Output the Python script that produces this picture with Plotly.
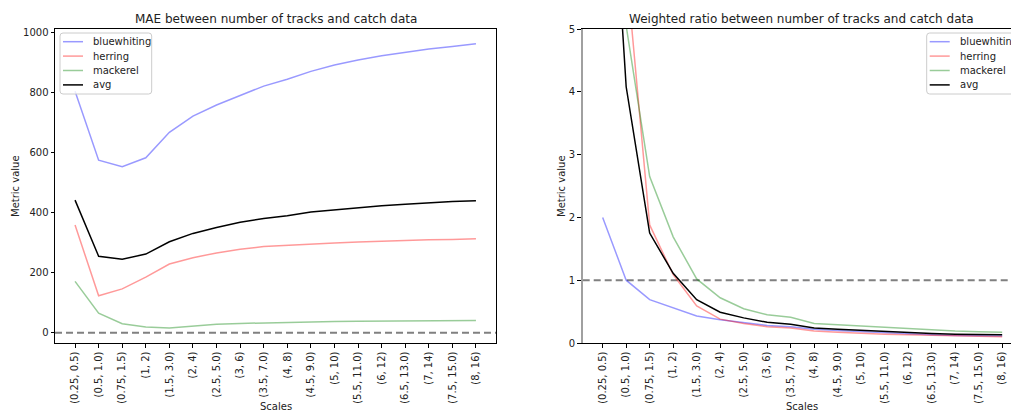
import plotly.graph_objects as go

scales = ["(0.25, 0.5)", "(0.5, 1.0)", "(0.75, 1.5)", "(1, 2)", "(1.5, 3.0)", "(2, 4)",
          "(2.5, 5.0)", "(3, 6)", "(3.5, 7.0)", "(4, 8)", "(4.5, 9.0)", "(5, 10)",
          "(5.5, 11.0)", "(6, 12)", "(6.5, 13.0)", "(7, 14)", "(7.5, 15.0)", "(8, 16)"]

mae_bluewhiting = [805, 575, 553, 583, 668, 722, 759, 790, 822, 845, 871, 892, 909, 923, 935, 946, 954, 963]
mae_herring = [359, 123, 146, 185, 229, 250, 266, 278, 287, 291, 297, 299, 302, 305, 308, 310, 311, 313]
mae_mackerel = [171, 65, 30, 19, 16, 23, 28, 31, 33, 35, 36, 37, 38, 39, 39, 40, 41, 41]
mae_avg = [442, 255, 245, 262, 303, 331, 351, 368, 381, 390, 402, 409, 417, 423, 428, 433, 437, 440]

ratio_bluewhiting = [2.0, 1.0, 0.69, 0.56, 0.43, 0.37, 0.32, 0.28, 0.26, 0.22, 0.20, 0.18, 0.16, 0.14, 0.13, 0.12, 0.12, 0.11]
ratio_herring = [17.0, 6.0, 1.88, 1.09, 0.59, 0.38, 0.31, 0.26, 0.24, 0.19, 0.17, 0.15, 0.14, 0.13, 0.12, 0.11, 0.11, 0.10]
ratio_mackerel = [11.0, 5.05, 2.65, 1.69, 1.02, 0.72, 0.545, 0.45, 0.41, 0.31, 0.29, 0.27, 0.25, 0.23, 0.20, 0.19, 0.18, 0.17]
ratio_avg = [10.0, 4.08, 1.75, 1.11, 0.69, 0.49, 0.40, 0.33, 0.30, 0.24, 0.22, 0.20, 0.18, 0.16, 0.15, 0.14, 0.14, 0.13]

names = ["bluewhiting", "herring", "mackerel", "avg"]
colors = ["rgba(0,0,255,0.4)", "rgba(255,0,0,0.4)", "rgba(0,128,0,0.4)", "#000000"]

FONT = "DejaVu Sans"
W, H = 1011, 412
T, B = 29, 69
ph = H - T - B

def px_x(p):
    return p / W

def px_y(p):
    return (H - B - p) / ph

fig = go.Figure()

left_series = [mae_bluewhiting, mae_herring, mae_mackerel, mae_avg]
right_series = [ratio_bluewhiting, ratio_herring, ratio_mackerel, ratio_avg]

for n, c, ys in zip(names, colors, left_series):
    fig.add_trace(go.Scatter(x=scales, y=ys, mode="lines", name=n, showlegend=False,
                             line=dict(color=c, width=1.5), xaxis="x", yaxis="y"))
for n, c, ys in zip(names, colors, right_series):
    fig.add_trace(go.Scatter(x=scales, y=ys, mode="lines", name=n, showlegend=False,
                             line=dict(color=c, width=1.5), xaxis="x2", yaxis="y2"))

x1_dom = [55 / W, 496 / W]
x2_dom = [582.7 / W, 1.0]
x2_end = -0.85 + (W - 582.7) / 23.5

def axis_common(linecolor="#000", linewidth=1):
    return dict(showline=True, linecolor=linecolor, linewidth=linewidth, ticks="outside",
                ticklen=3.5, tickcolor="#000", tickwidth=1, showgrid=False,
                zeroline=False, tickfont=dict(family=FONT, size=10, color="#222"))

fig.update_layout(
    width=W, height=H,
    margin=dict(l=0, r=0, t=T, b=B, autoexpand=False),
    paper_bgcolor="white", plot_bgcolor="white",
    font=dict(family=FONT, size=10, color="#222"),
    showlegend=False,
    xaxis=dict(domain=x1_dom, type="category", range=[-0.85, 17.85], tickangle=-90,
               mirror=True, anchor="y", **axis_common()),
    yaxis=dict(domain=[0, 1], range=[-34.3, 1012.3], dtick=200, tick0=0,
               mirror=True, anchor="x", **axis_common()),
    xaxis2=dict(domain=x2_dom, type="category", range=[-0.85, x2_end], tickangle=-90,
                mirror=True, anchor="y2", **axis_common()),
    yaxis2=dict(domain=[0, 1], range=[0, 5], dtick=1, tick0=0, anchor="x2",
                **axis_common("#a0a0a0", 2)),
)

fig.add_shape(type="line", xref="x domain", yref="y", x0=0, x1=1, y0=0, y1=0,
              line=dict(color="grey", width=2, dash="7px,4px"), layer="below")
fig.add_shape(type="line", xref="x2 domain", yref="y2", x0=0, x1=1, y0=1, y1=1,
              line=dict(color="grey", width=2, dash="7px,4px"), layer="below")

# legends drawn as boxes with line samples and text (matplotlib style)
def rounded_box(x0, y0, x1, y1, r=3):
    X0, X1 = px_x(x0), px_x(x1)
    Y0, Y1 = px_y(y0), px_y(y1)
    rx, ry = r / W, r / ph
    return (f"M {X0+rx},{Y0} L {X1-rx},{Y0} Q {X1},{Y0} {X1},{Y0-ry} "
            f"L {X1},{Y1+ry} Q {X1},{Y1} {X1-rx},{Y1} L {X0+rx},{Y1} "
            f"Q {X0},{Y1} {X0},{Y1+ry} L {X0},{Y0-ry} Q {X0},{Y0} {X0+rx},{Y0} Z")

item_y = [41.7, 56.1, 70.5, 84.9]
for box_left, box_right in [(60, 151.7), (926.7, 1040)]:
    fig.add_shape(type="path", xref="paper", yref="paper", layer="above",
                  path=rounded_box(box_left, 33, box_right, 94),
                  fillcolor="rgba(255,255,255,0.8)", line=dict(color="#cccccc", width=1))
    for n, c, yy in zip(names, colors, item_y):
        fig.add_shape(type="line", xref="paper", yref="paper", layer="above",
                      x0=px_x(box_left + 3), x1=px_x(box_left + 23), y0=px_y(yy), y1=px_y(yy),
                      line=dict(color=c, width=1.5))
        fig.add_annotation(xref="paper", yref="paper", showarrow=False, text=n,
                           x=px_x(box_left + 31), y=px_y(yy), xanchor="left", yanchor="middle",
                           font=dict(family=FONT, size=10, color="#222"))

ann = [
    dict(text="MAE between number of tracks and catch data", x=(55 + 496) / 2 / W, y=px_y(19),
         size=12, angle=0),
    dict(text="Weighted ratio between number of tracks and catch data", x=(582.7 + 1021) / 2 / W,
         y=px_y(19), size=12, angle=0),
    dict(text="Scales", x=(55 + 496) / 2 / W, y=px_y(406), size=10, angle=0),
    dict(text="Scales", x=(582.7 + 1021) / 2 / W, y=px_y(406), size=10, angle=0),
    dict(text="Metric value", x=15 / W, y=px_y(186), size=10, angle=-90),
    dict(text="Metric value", x=561 / W, y=px_y(186), size=10, angle=-90),
]
for a in ann:
    fig.add_annotation(xref="paper", yref="paper", showarrow=False, xanchor="center",
                       yanchor="middle", text=a["text"], x=a["x"], y=a["y"],
                       textangle=a["angle"],
                       font=dict(family=FONT, color="#222", size=a["size"]))

fig.write_html("out.html")
